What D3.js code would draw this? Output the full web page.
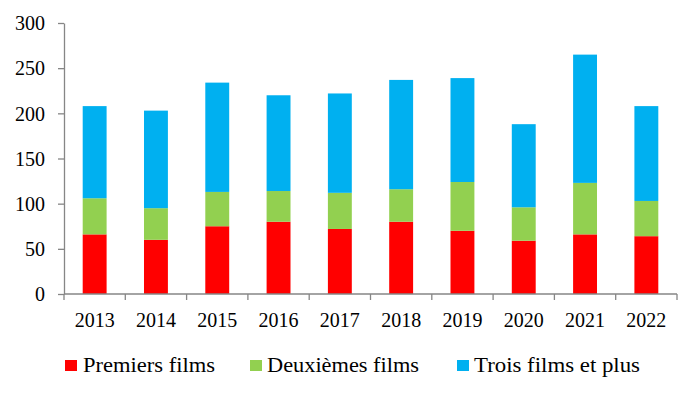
<!DOCTYPE html>
<html>
<head>
<meta charset="utf-8">
<script src="https://cdn.jsdelivr.net/npm/d3@7"></script>
<style>
  body { margin: 0; background: #fff; }
</style>
</head>
<body>
<svg id="svg" width="700" height="397"></svg>
<script>
const years = ['2013', '2014', '2015', '2016', '2017', '2018', '2019', '2020', '2021', '2022'];
const premiers = [66, 60, 75, 80, 72, 80, 70, 59, 66, 64];
const deuxiemes = [40, 35, 38, 34, 40, 36, 54, 37, 57, 39];
const trois = [102, 108, 121, 106, 110, 121, 115, 92, 142, 105];
const seriesNames = ['Premiers films', 'Deuxièmes films', 'Trois films et plus'];
const colors = ['#ff0000', '#92d050', '#00b0f0'];
const yTicks = [0, 50, 100, 150, 200, 250, 300];

const FONT = '"Liberation Serif", "Times New Roman", serif';
const svg = d3.select('#svg');
const plotLeft = 64, plotRight = 677, plotTop = 23, plotBottom = 294;

// table for the stack
const rows = years.map((y, i) => ({ year: y, p: premiers[i], d: deuxiemes[i], t: trois[i] }));
const stacked = d3.stack().keys(['p', 'd', 't'])(rows);

const x = d3.scaleBand().domain(years).range([plotLeft, plotRight]).padding(0);
const y = d3.scaleLinear().domain([0, 300]).range([plotBottom, plotTop]);
const barW = x.bandwidth() * 0.39;

svg.append('g')
  .selectAll('g')
  .data(stacked)
  .join('g')
  .attr('fill', (d, i) => colors[i])
  .selectAll('rect')
  .data(d => d)
  .join('rect')
  .attr('x', d => x(d.data.year) + (x.bandwidth() - barW) / 2)
  .attr('y', d => y(d[1]))
  .attr('width', barW)
  .attr('height', d => y(d[0]) - y(d[1]));

// y axis
const yAxis = svg.append('g')
  .attr('transform', `translate(${plotLeft},0)`)
  .call(d3.axisLeft(y).tickValues(yTicks).tickSize(6).tickSizeOuter(0).tickPadding(13));
yAxis.attr('font-family', FONT).attr('font-size', 20);
yAxis.select('.domain').attr('stroke', '#868686').attr('stroke-width', 1.3);
yAxis.selectAll('.tick line').attr('stroke', '#868686').attr('stroke-width', 1.3);
yAxis.selectAll('text').attr('fill', '#000').attr('dy', '0.34em');

// x axis: ticks on band boundaries
const xAxis = svg.append('g').attr('transform', `translate(0,${plotBottom})`);
xAxis.append('line')
  .attr('x1', plotLeft).attr('x2', plotRight)
  .attr('stroke', '#868686').attr('stroke-width', 1.3);
xAxis.selectAll('.bt')
  .data(years.concat(['end']))
  .join('line')
  .attr('class', 'bt')
  .attr('x1', (d, i) => i < years.length ? x(d) : plotRight)
  .attr('x2', (d, i) => i < years.length ? x(d) : plotRight)
  .attr('y1', 0).attr('y2', 6)
  .attr('stroke', '#868686').attr('stroke-width', 1.3);
xAxis.selectAll('text')
  .data(years)
  .join('text')
  .attr('x', d => x(d) + x.bandwidth() / 2)
  .attr('y', 33)
  .attr('text-anchor', 'middle')
  .attr('font-family', FONT)
  .attr('font-size', 20)
  .text(d => d);

// legend
const legendX = [65, 250, 457];
const legendW = [132, 152, 166];
const legend = svg.append('g')
  .selectAll('g')
  .data(seriesNames)
  .join('g')
  .attr('transform', (d, i) => `translate(${legendX[i]},360)`);
legend.append('rect')
  .attr('width', 12).attr('height', 11)
  .attr('fill', (d, i) => colors[i]);
legend.append('text')
  .attr('x', (d, i) => i === 0 ? 18 : 17)
  .attr('y', 12)
  .attr('font-family', FONT)
  .attr('font-size', 21)
  .attr('textLength', (d, i) => legendW[i])
  .attr('lengthAdjust', 'spacingAndGlyphs')
  .text(d => d);
</script>
</body>
</html>
